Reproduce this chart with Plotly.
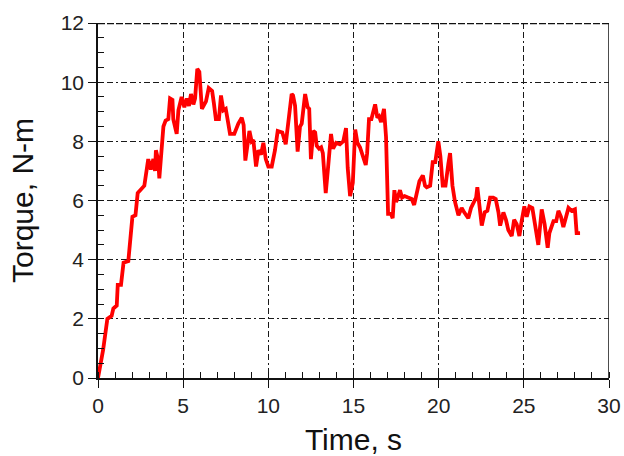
import plotly.graph_objects as go

# Measured torque trace
time_s = [
    0.0, 0.3, 0.55, 0.8, 0.9, 1.1, 1.16, 1.35, 1.5, 1.78,
    2.02, 2.2, 2.33, 2.56, 2.72, 2.95, 3.1, 3.25, 3.35, 3.4,
    3.54, 3.6, 3.74, 3.84, 3.97, 4.13, 4.23, 4.37, 4.42, 4.62,
    4.72, 4.91, 5.07, 5.21, 5.34, 5.46, 5.6, 5.7, 5.83, 5.95,
    6.1, 6.2, 6.34, 6.5, 6.7, 6.8, 6.92, 7.1, 7.22, 7.36,
    7.5, 7.65, 7.75, 8.0, 8.24, 8.44, 8.55, 8.65, 8.77, 8.89,
    9.02, 9.12, 9.28, 9.42, 9.57, 9.71, 9.85, 10.0, 10.2, 10.39,
    10.55, 10.82, 11.02, 11.17, 11.37, 11.45, 11.57, 11.72, 11.86, 11.96,
    12.16, 12.31, 12.4, 12.5, 12.64, 12.75, 12.84, 12.98, 13.1, 13.2,
    13.37, 13.52, 13.68, 13.8, 13.98, 14.2, 14.4, 14.56, 14.66, 14.8,
    14.96, 15.1, 15.23, 15.38, 15.58, 15.72, 15.8, 15.91, 16.05, 16.27,
    16.4, 16.5, 16.62, 16.79, 16.91, 17.03, 17.2, 17.3, 17.4, 17.5,
    17.6, 17.73, 17.85, 18.0, 18.2, 18.42, 18.56, 18.7, 18.87, 19.07,
    19.2, 19.3, 19.5, 19.65, 19.8, 19.98, 20.1, 20.24, 20.4, 20.57,
    20.67, 20.81, 20.96, 21.16, 21.35, 21.5, 21.74, 21.9, 22.05, 22.2,
    22.27, 22.4, 22.53, 22.7, 22.86, 23.02, 23.2, 23.35, 23.51, 23.61,
    23.8, 23.95, 24.09, 24.29, 24.43, 24.58, 24.74, 24.87, 25.03, 25.17,
    25.33, 25.5, 25.6, 25.75, 25.85, 26.05, 26.22, 26.4, 26.5, 26.74,
    26.9, 27.03, 27.18, 27.32, 27.47, 27.62, 27.8, 28.0, 28.1, 28.3,
]
torque_nm = [
    0.0, 0.95, 2.0, 2.1, 2.35, 2.45, 3.15, 3.15, 3.9, 3.95,
    5.45, 5.5, 6.25, 6.4, 6.5, 7.4, 7.05, 7.4, 7.0, 7.7,
    7.35, 6.75, 8.05, 8.5, 8.7, 8.75, 9.45, 9.4, 8.75, 8.25,
    9.05, 9.5, 9.15, 9.45, 9.2, 9.6, 9.25, 9.45, 10.45, 10.35,
    9.1, 9.2, 9.35, 9.8, 9.7, 9.3, 8.75, 8.75, 9.55, 9.05,
    9.1, 8.6, 8.25, 8.25, 8.6, 8.8, 8.55, 7.35, 7.85, 8.35,
    8.0, 8.05, 7.15, 7.7, 7.55, 7.95, 7.4, 7.15, 7.15, 7.7,
    8.35, 8.3, 7.9, 8.75, 9.6, 9.55, 9.2, 7.65, 8.5, 8.6,
    9.6, 9.15, 9.1, 7.4, 8.35, 8.3, 7.85, 7.75, 7.8, 7.6,
    6.25, 7.2, 8.25, 7.75, 7.95, 7.9, 8.0, 8.45, 7.1, 6.15,
    6.6, 8.4, 7.95, 7.8, 7.45, 7.2, 7.6, 8.75, 8.75, 9.25,
    8.8, 8.85, 8.65, 9.1, 8.15, 5.55, 5.55, 5.4, 6.35, 5.95,
    6.1, 6.35, 6.1, 6.15, 6.1, 6.05, 5.85, 6.2, 6.65, 6.85,
    6.5, 6.45, 6.5, 7.3, 7.3, 8.0, 7.5, 6.5, 6.5, 7.25,
    7.6, 6.5, 5.95, 5.5, 5.75, 5.6, 5.4, 5.75, 5.9, 6.1,
    6.45, 5.9, 5.15, 5.6, 5.65, 6.1, 6.1, 6.05, 5.6, 5.15,
    5.6, 5.35, 5.0, 4.8, 5.35, 5.2, 4.8, 5.3, 5.8, 5.45,
    5.8, 5.75, 5.4, 5.0, 4.5, 5.7, 5.2, 4.4, 4.9, 5.3,
    5.3, 5.65, 5.45, 5.1, 5.5, 5.75, 5.65, 5.7, 4.9, 4.9,
]

x_range = [0, 30]
y_range = [0, 12]

fig = go.Figure()
fig.add_trace(go.Scatter(
    x=time_s, y=torque_nm, mode="lines",
    line=dict(color="#ff0000", width=3.8),
    showlegend=False,
))

axis_common = dict(
    showline=True, linecolor="#111111", linewidth=1.5,
    showgrid=True, gridcolor="#1a1a1a", gridwidth=1.3,
    griddash="6px,3px,6px,3px,2px,3px",
    ticks="outside", ticklen=8, tickwidth=1.3, tickcolor="#111111",
    tickfont=dict(family="Liberation Sans, Arial, sans-serif", size=21, color="#222222"),
    zeroline=False, automargin=False,
    title_font=dict(family="Liberation Sans, Arial, sans-serif", size=30, color="#111111"),
)

fig.update_xaxes(
    range=x_range, dtick=5, tick0=0,
    minor=dict(dtick=1, ticks="inside", ticklen=6, tickwidth=1.2, tickcolor="#111111", showgrid=False),
    title_text="Time, s", title_standoff=19,
    **axis_common,
)
fig.update_yaxes(
    range=y_range, dtick=2, tick0=0,
    minor=dict(dtick=0.5, ticks="inside", ticklen=6, tickwidth=1.2, tickcolor="#111111", showgrid=False),
    title_text="Torque, N-m", title_standoff=18,
    **axis_common,
)

# Frame: solid right edge, bold dashed top edge
fig.add_shape(type="line", xref="x", yref="y", x0=x_range[1], x1=x_range[1],
              y0=y_range[0], y1=y_range[1], line=dict(color="#111111", width=1.5))
fig.add_shape(type="line", xref="x", yref="y", x0=x_range[0], x1=x_range[1],
              y0=y_range[1], y1=y_range[1], line=dict(color="#111111", width=2.5, dash="7px,2px"))

fig.update_layout(
    width=624, height=456,
    margin=dict(l=98, r=15, t=23, b=78),
    plot_bgcolor="white", paper_bgcolor="white",
)

fig.write_html("out.html")
